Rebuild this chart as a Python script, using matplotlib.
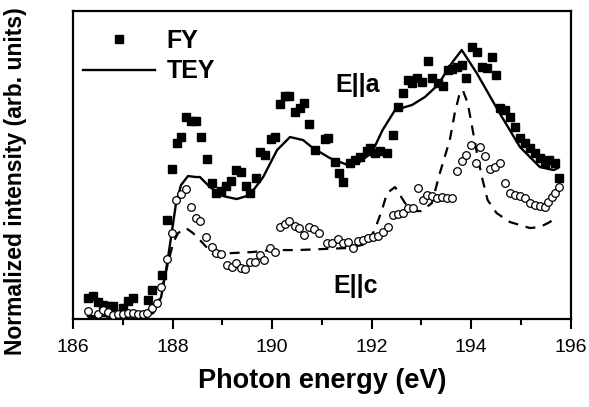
import matplotlib
matplotlib.use("Agg")
import matplotlib.pyplot as plt
from matplotlib.lines import Line2D
from matplotlib.ticker import MultipleLocator

plt.rcParams['font.family'] = ['Liberation Sans', 'DejaVu Sans']

# FY, E||a (filled squares)
fy_a_x = [186.30, 186.40, 186.50, 186.60, 186.70, 186.80, 187.00, 187.10, 187.20, 187.51,
          187.59, 187.79, 187.89, 187.99, 188.09, 188.17, 188.27, 188.37, 188.47, 188.57,
          188.69, 188.79, 188.87, 188.97, 189.07, 189.17, 189.27, 189.37, 189.47, 189.55,
          189.67, 189.76, 189.86, 189.98, 190.06, 190.16, 190.26, 190.34, 190.46, 190.56,
          190.64, 190.74, 190.86, 191.06, 191.12, 191.26, 191.34, 191.42, 191.56, 191.66,
          191.76, 191.90, 191.96, 192.06, 192.16, 192.31, 192.43, 192.53, 192.63, 192.73,
          192.81, 192.91, 193.01, 193.13, 193.21, 193.33, 193.43, 193.53, 193.61, 193.71,
          193.81, 193.89, 194.01, 194.11, 194.21, 194.31, 194.41, 194.49, 194.57, 194.67,
          194.78, 194.88, 194.98, 195.08, 195.18, 195.28, 195.38, 195.48, 195.56, 195.68,
          195.76]
fy_a_y = [21, 23, 17, 14, 13, 13, 11, 18, 21, 19,
          29, 44, 99, 150, 176, 182, 202, 198, 198, 182,
          160, 136, 126, 128, 133, 138, 149, 147, 133, 126,
          141, 167, 164, 180, 182, 215, 223, 223, 207, 211,
          216, 195, 169, 180, 181, 157, 146, 137, 156, 159,
          162, 168, 171, 166, 168, 166, 184, 212, 226, 239,
          236, 241, 237, 258, 241, 236, 233, 249, 250, 252,
          254, 241, 272, 267, 252, 251, 262, 244, 211, 209,
          202, 192, 181, 176, 171, 166, 161, 156, 159, 156,
          141]

# FY, E||c (open circles)
fy_c_x = [186.30, 186.50, 186.60, 186.70, 186.80, 186.90, 187.00, 187.10, 187.20, 187.31,
          187.41, 187.49, 187.59, 187.69, 187.77, 187.89, 187.99, 188.07, 188.17, 188.27,
          188.37, 188.47, 188.55, 188.67, 188.79, 188.87, 188.97, 189.09, 189.19, 189.27,
          189.37, 189.45, 189.55, 189.65, 189.76, 189.84, 189.96, 190.06, 190.16, 190.26,
          190.34, 190.46, 190.54, 190.64, 190.74, 190.84, 190.94, 191.10, 191.20, 191.32,
          191.42, 191.52, 191.62, 191.72, 191.82, 191.92, 192.02, 192.12, 192.22, 192.33,
          192.43, 192.53, 192.63, 192.73, 192.83, 192.93, 193.03, 193.11, 193.21, 193.31,
          193.41, 193.51, 193.61, 193.71, 193.81, 193.89, 193.99, 194.09, 194.17, 194.27,
          194.37, 194.47, 194.57, 194.67, 194.78, 194.88, 194.98, 195.08, 195.18, 195.28,
          195.38, 195.48, 195.54, 195.62, 195.68, 195.76]
fy_c_y = [8, 5, 9, 7, 4, 5, 5, 6, 6, 5,
          5, 6, 11, 16, 32, 60, 86, 119, 125, 130,
          112, 101, 98, 82, 72, 66, 65, 54, 52, 56,
          51, 50, 57, 57, 64, 59, 71, 67, 92, 95,
          98, 93, 91, 84, 92, 90, 86, 76, 76, 80,
          76, 77, 71, 78, 79, 81, 82, 83, 87, 92,
          104, 105, 106, 111, 111, 131, 119, 124, 123, 121,
          122, 121, 121, 148, 158, 164, 174, 156, 172, 163,
          150, 152, 156, 136, 126, 124, 123, 121, 116, 114,
          113, 112, 117, 122, 126, 132]

# TEY, E||a (solid line)
tey_a_x = [186.30, 186.80, 187.20, 187.50, 187.61, 187.77, 187.87, 187.97, 188.07, 188.17,
           188.31, 188.47, 188.55, 188.75, 189.01, 189.29, 189.55, 189.82, 190.10, 190.36,
           190.62, 190.82, 191.16, 191.52, 191.75, 192.00, 192.22, 192.47, 192.81, 193.07,
           193.33, 193.61, 193.81, 194.11, 194.57, 194.98, 195.38, 195.56, 195.66, 195.74]
tey_a_y = [3, 3, 3, 4, 6, 22, 49, 82, 116, 134,
           143, 142, 142, 132, 123, 120, 124, 142, 169, 182,
           179, 171, 161, 154, 157, 166, 189, 209, 214, 222,
           234, 256, 269, 246, 206, 172, 152, 150, 149, 151]

# TEY, E||c (dashed line)
tey_c_x = [186.30, 187.50, 187.70, 187.91, 188.01, 188.11, 188.27, 188.41, 188.55, 188.81,
           189.20, 189.60, 190.00, 190.50, 191.00, 191.50, 191.90, 192.06, 192.20, 192.31,
           192.47, 192.67, 192.85, 193.00, 193.21, 193.37, 193.57, 193.67, 193.77, 193.83,
           193.93, 194.03, 194.13, 194.23, 194.33, 194.51, 194.78, 195.18, 195.38, 195.58,
           195.66]
tey_c_y = [2, 3, 14, 56, 76, 86, 91, 86, 79, 65,
           66, 67, 69, 69, 70, 71, 75, 89, 108, 126,
           132, 116, 108, 108, 116, 146, 179, 206, 226, 229,
           216, 189, 162, 139, 119, 106, 97, 91, 92, 97,
           100]

fig = plt.figure(figsize=(5.89, 4.07), dpi=100)
ax = fig.add_axes([0.124, 0.216, 0.845, 0.757])

ax.plot(tey_a_x, tey_a_y, color='black', lw=1.7, zorder=2)
ax.plot(tey_c_x, tey_c_y, color='black', lw=1.6, ls=(0, (4.5, 3.5)), zorder=2)
ax.plot(fy_a_x, fy_a_y, ls='none', marker='s', ms=5.5, color='black', zorder=3)
ax.plot(fy_c_x, fy_c_y, ls='none', marker='o', ms=5.5, mfc='white', mec='black',
        mew=0.9, zorder=3)

ax.set_xlim(186, 196)
ax.set_ylim(0, 308)
ax.xaxis.set_major_locator(MultipleLocator(2))
ax.xaxis.set_minor_locator(MultipleLocator(1))
ax.tick_params(axis='x', which='major', direction='out', length=7, width=1.5,
               labelsize=14, pad=7)
ax.tick_params(axis='x', which='minor', direction='out', length=4, width=1.5)
ax.set_yticks([])
for sp in ax.spines.values():
    sp.set_linewidth(1.6)

ax.set_xlabel('Photon energy (eV)', fontsize=19.5, fontweight='bold')
ax.xaxis.set_label_coords(0.5, -0.16)
ax.set_ylabel('Normalized intensity (arb. units)', fontsize=16.5, fontweight='bold')
ax.yaxis.set_label_coords(-0.092, 0.448)

ax.text(191.28, 227, 'E||a', fontsize=18, fontweight='bold', va='baseline')
ax.text(191.24, 26, 'E||c', fontsize=18, fontweight='bold', va='baseline')

handles = [Line2D([], [], ls='none', marker='s', ms=5.5, color='black'),
           Line2D([], [], color='black', lw=1.7)]
ax.legend(handles, ['FY', 'TEY'], loc='upper left', bbox_to_anchor=(0.02, 0.942),
          frameon=False, borderpad=0, borderaxespad=0, handlelength=2.9,
          handletextpad=0.45, labelspacing=0.26,
          prop={'size': 18, 'weight': 'bold'})

fig.savefig('out.png', dpi=100)
